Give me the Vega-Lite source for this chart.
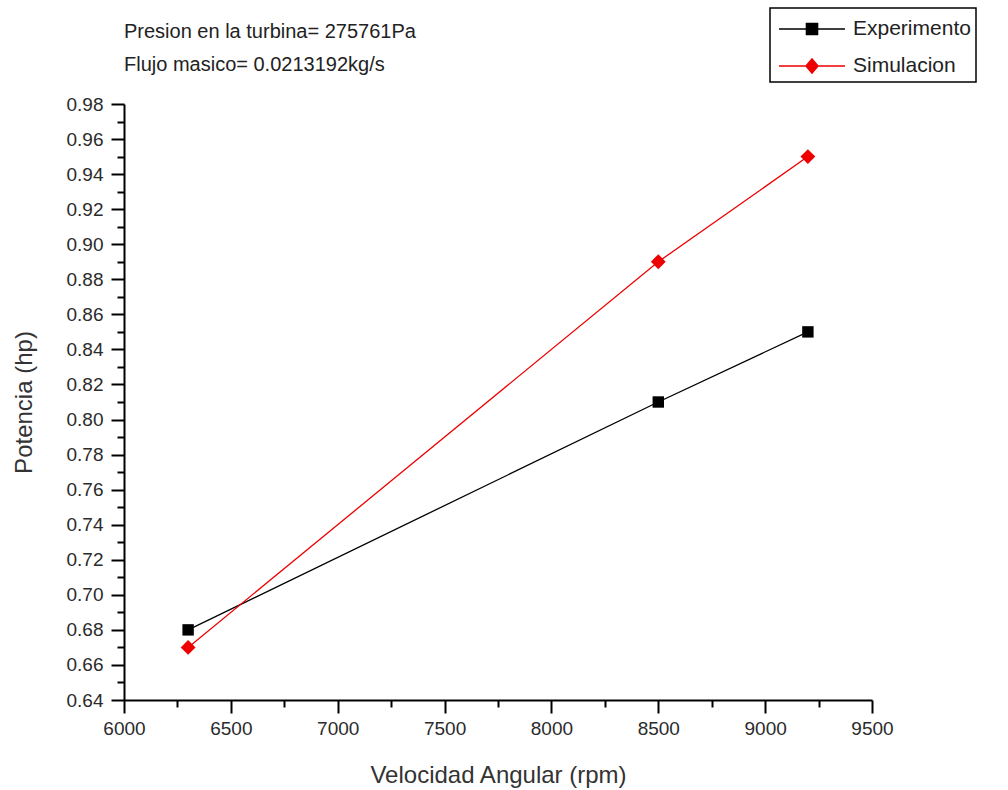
{
  "$schema": "https://vega.github.io/schema/vega-lite/v6.json",
  "width": 748,
  "height": 596,
  "autosize": {"type": "none"},
  "padding": {"left": 124, "top": 104, "right": 136, "bottom": 90},
  "background": "white",
  "config": {
    "view": {"stroke": null},
    "font": "Liberation Sans"
  },
  "title": {
    "text": ["Presion en la turbina= 275761Pa", "Flujo masico= 0.0213192kg/s"],
    "anchor": "start",
    "frame": "group",
    "fontSize": 20,
    "fontWeight": "normal",
    "font": "Liberation Sans",
    "lineHeight": 33,
    "color": "#222222",
    "offset": -68
  },
  "data": {
    "values": [
      {"rpm": 6300, "hp": 0.68, "serie": "Experimento"},
      {"rpm": 8500, "hp": 0.81, "serie": "Experimento"},
      {"rpm": 9200, "hp": 0.85, "serie": "Experimento"},
      {"rpm": 6300, "hp": 0.67, "serie": "Simulacion"},
      {"rpm": 8500, "hp": 0.89, "serie": "Simulacion"},
      {"rpm": 9200, "hp": 0.95, "serie": "Simulacion"}
    ]
  },
  "encoding": {
    "x": {
      "field": "rpm",
      "type": "quantitative",
      "scale": {"domain": [6000, 9500], "nice": false, "zero": false},
      "axis": {
        "title": "Velocidad Angular (rpm)",
        "values": [6000, 6250, 6500, 6750, 7000, 7250, 7500, 7750, 8000, 8250, 8500, 8750, 9000, 9250, 9500],
        "format": "d",
        "labelExpr": "datum.value % 500 === 0 ? datum.label : ''",
        "tickSize": {"condition": {"test": "datum.value % 500 === 0", "value": 13}, "value": 7},
        "grid": false,
        "domainColor": "#000000",
        "domainWidth": 2,
        "tickColor": "#000000",
        "tickWidth": 2,
        "labelFontSize": 19,
        "labelColor": "#2b2b2b",
        "labelPadding": 6,
        "labelFlush": false,
        "titleFontSize": 24,
        "titleFontWeight": "normal",
        "titleColor": "#333333",
        "titlePadding": 25
      }
    },
    "y": {
      "field": "hp",
      "type": "quantitative",
      "scale": {"domain": [0.64, 0.98], "nice": false, "zero": false},
      "axis": {
        "title": "Potencia (hp)",
        "values": [0.64, 0.65, 0.66, 0.67, 0.68, 0.69, 0.70, 0.71, 0.72, 0.73, 0.74, 0.75, 0.76, 0.77, 0.78, 0.79, 0.80, 0.81, 0.82, 0.83, 0.84, 0.85, 0.86, 0.87, 0.88, 0.89, 0.90, 0.91, 0.92, 0.93, 0.94, 0.95, 0.96, 0.97, 0.98],
        "format": ".2f",
        "labelExpr": "round(datum.value * 100) % 2 === 0 ? datum.label : ''",
        "tickSize": {"condition": {"test": "round(datum.value * 100) % 2 === 0", "value": 13}, "value": 7},
        "grid": false,
        "domainColor": "#000000",
        "domainWidth": 2,
        "tickColor": "#000000",
        "tickWidth": 2,
        "labelFontSize": 19,
        "labelColor": "#2b2b2b",
        "labelPadding": 8,
        "labelFlush": false,
        "titleFontSize": 24,
        "titleFontWeight": "normal",
        "titleColor": "#333333",
        "titlePadding": 30
      }
    }
  },
  "layer": [
    {
      "mark": {"type": "line", "strokeWidth": 1.3},
      "encoding": {
        "color": {
          "field": "serie",
          "type": "nominal",
          "scale": {"domain": ["Experimento", "Simulacion"], "range": ["#000000", "#ee0000"]},
          "legend": {
            "title": null,
            "orient": "none",
            "legendX": 646,
            "legendY": -96,
            "padding": 5,
            "symbolSize": 900,
            "symbolStrokeWidth": 1.5,
            "symbolOffset": 21,
            "labelOffset": 25,
            "rowPadding": 11,
            "labelFontSize": 21,
            "labelFont": "Liberation Sans",
            "labelColor": "#222222",
            "labelLimit": 300,
            "encode": {
              "legend": {"update": {"stroke": {"value": "#000000"}, "strokeWidth": {"value": 1.5}, "fill": {"value": "white"}}},
              "symbols": {
                "update": {
                  "shape": {"signal": "datum.label === 'Experimento' ? 'M-2.2,0H2.2M-0.37,-0.37H0.37V0.37H-0.37Z' : 'M-2.2,0H2.2M0,-0.47L0.4,0L0,0.47L-0.4,0Z'"},
                  "fill": {"signal": "datum.label === 'Experimento' ? '#000000' : '#ee0000'"},
                  "fillOpacity": {"value": 1}
                }
              }
            }
          }
        }
      }
    },
    {
      "transform": [{"filter": "datum.serie === 'Experimento'"}],
      "mark": {"type": "point", "filled": true, "opacity": 1, "shape": "square", "size": 130, "color": "#000000"}
    },
    {
      "transform": [{"filter": "datum.serie === 'Simulacion'"}],
      "mark": {"type": "point", "filled": true, "opacity": 1, "shape": "diamond", "size": 220, "color": "#ee0000"}
    }
  ]
}
